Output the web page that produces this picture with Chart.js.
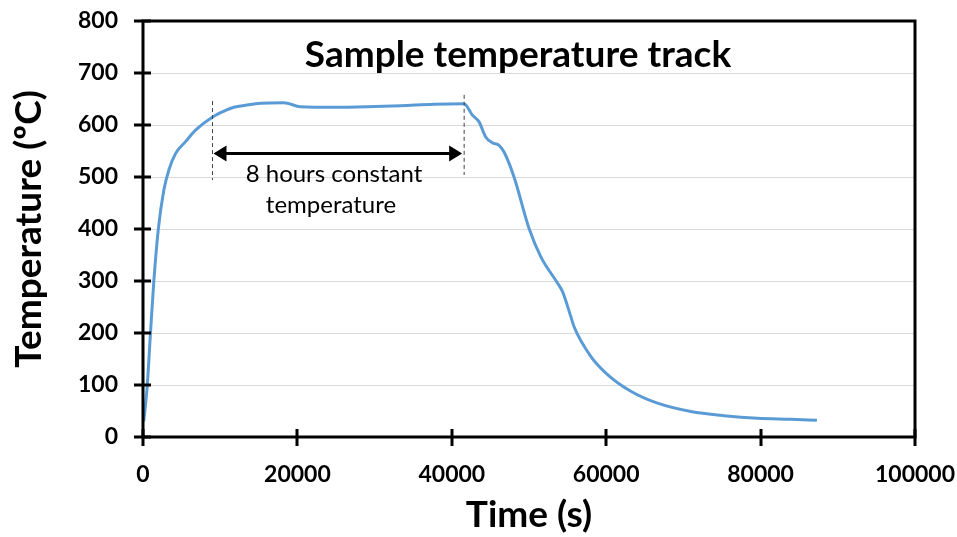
<!DOCTYPE html>
<html lang="en">
<head>
<meta charset="UTF-8">
<title>Sample temperature track</title>
<script src="https://cdn.jsdelivr.net/npm/chart.js"></script>
<style>
  html, body { margin: 0; padding: 0; background: #fff; }
  canvas { display: block; }
</style>
</head>
<body>
<canvas id="tempChart" width="957" height="537"></canvas>
<script>
// time (s) and sample temperature (ºC)
const timeSec = [100, 540, 970, 1400, 1970, 2700, 3340, 4210, 5510, 6800, 8970, 10700, 11770,
    13290, 15230, 18250, 20400, 24730, 29060, 33380, 37700, 41580, 42670, 43530, 44390,
    45260, 46120, 46770, 48060, 50010, 51520, 53690, 54330, 55410, 55840, 58000, 60170,
    63190, 66650, 70970, 75280, 79600, 83930, 87300];
const tempC = [30, 97, 200, 299, 398, 475, 513, 545, 568, 590, 615, 628, 634,
    638, 642, 643, 635, 634, 635, 637, 640, 641, 619, 606, 577,
    566, 561, 548, 500, 401, 347, 296, 280, 232, 212, 155, 120,
    88, 65, 49, 41, 36, 34, 32];

const xTicks = [0, 20000, 40000, 60000, 80000, 100000];
const yTicks = [0, 100, 200, 300, 400, 500, 600, 700, 800];

// the 8 hour dwell marked on the chart
const holdStart = 9000;
const holdEnd = 41600;
const holdArrowTemp = 545;

const FONT = 'Lato, "Open Sans", sans-serif';

const frame = {
    id: 'frame',
    afterDraw(chart) {
        const ctx = chart.ctx;
        const a = chart.chartArea;
        const x = chart.scales.x;
        const y = chart.scales.y;
        ctx.save();

        // black box round the plot, with ticks crossing the left and bottom edges
        ctx.strokeStyle = '#000';
        ctx.lineWidth = 3;
        ctx.strokeRect(a.left, a.top, a.right - a.left, a.bottom - a.top);
        ctx.beginPath();
        yTicks.forEach(v => {
            const py = Math.round(y.getPixelForValue(v));
            ctx.moveTo(a.left - 9, py);
            ctx.lineTo(a.left + 8, py);
        });
        xTicks.forEach(v => {
            const px = Math.round(x.getPixelForValue(v));
            ctx.moveTo(px, a.bottom - 8);
            ctx.lineTo(px, a.bottom + 9);
        });
        ctx.stroke();

        // title inside the plot
        ctx.fillStyle = '#000';
        ctx.font = 'bold 37px ' + FONT;
        ctx.textAlign = 'center';
        ctx.textBaseline = 'alphabetic';
        ctx.fillText('Sample temperature track', 518, 67);

        // dashed markers at start and end of the hold
        ctx.strokeStyle = '#404040';
        ctx.lineWidth = 1;
        ctx.setLineDash([4, 3]);
        const xs = x.getPixelForValue(holdStart);
        const xe = x.getPixelForValue(holdEnd);
        ctx.beginPath();
        ctx.moveTo(xs, y.getPixelForValue(646));
        ctx.lineTo(xs, y.getPixelForValue(494));
        ctx.moveTo(xe, y.getPixelForValue(658));
        ctx.lineTo(xe, y.getPixelForValue(504));
        ctx.stroke();
        ctx.setLineDash([]);

        // double headed arrow
        const ay = y.getPixelForValue(holdArrowTemp);
        const l = xs + 1, r = xe - 2, head = 13, half = 8;
        ctx.strokeStyle = '#000';
        ctx.lineWidth = 3;
        ctx.beginPath();
        ctx.moveTo(l + head - 1, ay);
        ctx.lineTo(r - head + 1, ay);
        ctx.stroke();
        ctx.beginPath();
        ctx.moveTo(l, ay);
        ctx.lineTo(l + head, ay - half);
        ctx.lineTo(l + head, ay + half);
        ctx.closePath();
        ctx.moveTo(r, ay);
        ctx.lineTo(r - head, ay - half);
        ctx.lineTo(r - head, ay + half);
        ctx.closePath();
        ctx.fill();

        ctx.font = '24px ' + FONT;
        ctx.fillText('8 hours constant', 334, 182);
        ctx.fillText('temperature', 331, 213);
        ctx.restore();
    }
};

new Chart(document.getElementById('tempChart'), {
    type: 'scatter',
    data: {
        datasets: [{
            label: 'Sample temperature',
            data: timeSec.map((t, i) => ({ x: t, y: tempC[i] })),
            showLine: true,
            borderColor: '#5b9bd5',
            borderWidth: 3,
            pointRadius: 0,
            cubicInterpolationMode: 'monotone',
            fill: false
        }]
    },
    options: {
        responsive: false,
        animation: false,
        layout: { padding: { top: 21, right: 42, left: 0, bottom: 0 } },
        plugins: {
            legend: { display: false },
            tooltip: { enabled: false }
        },
        scales: {
            x: {
                type: 'linear',
                min: 0,
                max: 100000,
                afterBuildTicks: s => { s.ticks = xTicks.map(v => ({ value: v })); },
                afterFit: s => {
                    s.height = 100;
                    s.paddingLeft = 0;
                    s.paddingRight = 0;
                },
                grid: { display: false },
                border: { display: false },
                ticks: {
                    color: '#000',
                    padding: 16,
                    maxRotation: 0,
                    font: { family: FONT, size: 23, weight: 'bold' },
                    callback: v => String(v)
                },
                title: {
                    display: true,
                    text: 'Time (s)',
                    color: '#000',
                    padding: { top: 0, bottom: 0 },
                    font: { family: FONT, size: 37, weight: 'bold' }
                }
            },
            y: {
                min: 0,
                max: 800,
                afterBuildTicks: s => { s.ticks = yTicks.map(v => ({ value: v })); },
                afterFit: s => {
                    s.width = 143;
                    s.paddingTop = 0;
                    s.paddingBottom = 0;
                },
                grid: { color: '#d9d9d9', lineWidth: 1, drawTicks: false },
                border: { display: false },
                ticks: {
                    color: '#000',
                    padding: 25,
                    font: { family: FONT, size: 23, weight: 'bold' },
                    callback: v => String(v)
                },
                title: {
                    display: true,
                    text: 'Temperature (ºC)',
                    color: '#000',
                    padding: { top: 7, bottom: 0 },
                    font: { family: FONT, size: 37, weight: 'bold' }
                }
            }
        }
    },
    plugins: [frame]
});
</script>
</body>
</html>
